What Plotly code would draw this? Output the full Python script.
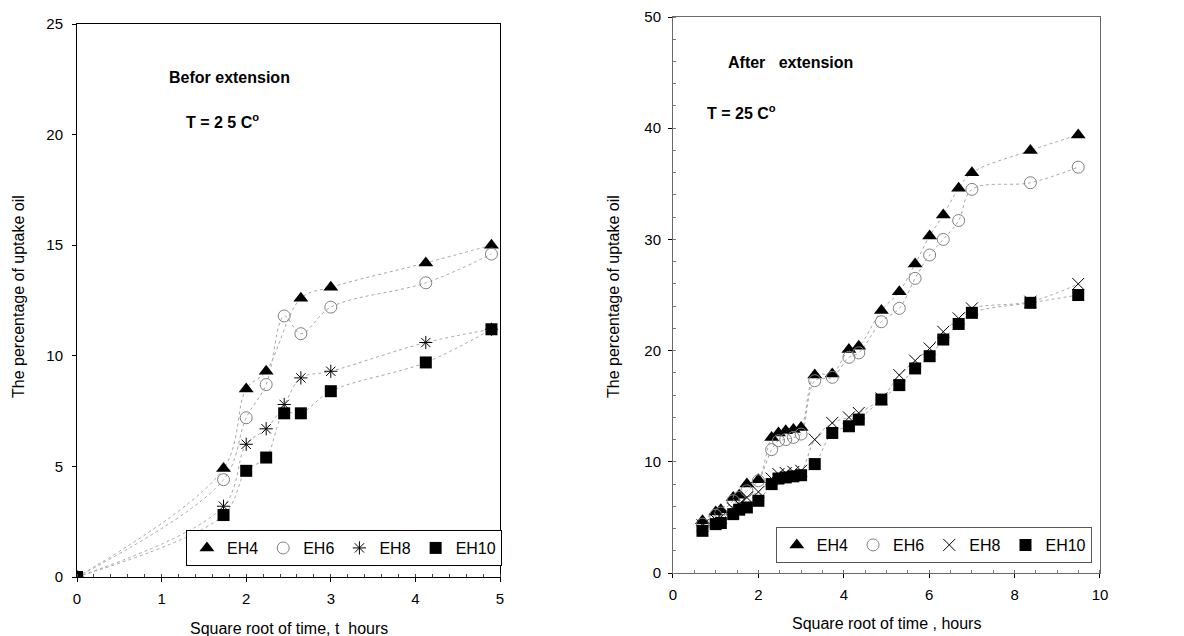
import plotly.graph_objects as go

# ---------------- data: left panel (before extension) ----------------
x_left = [0, 1.732, 2.0, 2.236, 2.449, 2.646, 3.0, 4.123, 4.899]
eh4_left = [0, 4.9, 8.5, 9.3, None, 12.6, 13.1, 14.2, 15.0]
eh6_left = [0, 4.4, 7.2, 8.7, 11.8, 11.0, 12.2, 13.3, 14.6]
eh8_left = [0, 3.2, 6.0, 6.7, 7.8, 9.0, 9.3, 10.6, 11.2]
eh10_left = [0, 2.8, 4.8, 5.4, 7.4, 7.4, 8.4, 9.7, 11.2]

# ---------------- data: right panel (after extension) ----------------
x_right = [0.69, 1.0, 1.12, 1.41, 1.55, 1.73, 2.0, 2.31, 2.47, 2.64, 2.82, 3.0,
           3.32, 3.73, 4.12, 4.35, 4.88, 5.3, 5.67, 6.01, 6.33, 6.69, 7.0, 8.37, 9.49]
eh4_right = [4.7, 5.5, 5.7, 6.8, 7.0, 8.0, 8.4, 12.2, 12.6, 12.8, 12.9, 13.1,
             17.8, 17.9, 20.1, 20.4, 23.6, 25.3, 27.8, 30.3, 32.2, 34.6, 36.0, 38.0, 39.4]
eh6_right = [4.4, 5.2, 5.4, 6.5, 6.8, 7.4, 8.3, 11.1, 11.9, 12.0, 12.2, 12.5,
             17.3, 17.6, 19.4, 19.8, 22.6, 23.8, 26.5, 28.6, 30.0, 31.7, 34.5, 35.1, 36.5]
eh8_right = [4.3, 4.8, 5.0, 5.8, 6.2, 6.8, 7.3, 8.5, 8.9, 9.0, 9.1, 9.2,
             12.0, 13.5, 14.0, 14.4, 15.7, 17.8, 19.1, 20.2, 21.7, 22.9, 23.8, 24.4, 26.0]
eh10_right = [3.8, 4.4, 4.5, 5.3, 5.7, 5.9, 6.5, 8.0, 8.5, 8.6, 8.7, 8.8,
              9.8, 12.6, 13.2, 13.8, 15.6, 16.9, 18.4, 19.5, 21.0, 22.4, 23.4, 24.3, 25.0]

names = ["EH4", "EH6", "EH8", "EH10"]
left_series = [eh4_left, eh6_left, eh8_left, eh10_left]
right_series = [eh4_right, eh6_right, eh8_right, eh10_right]

FONT = "Liberation Sans, Arial, sans-serif"
LINE_GREY = "#a8a8a8"

left_markers = [
    dict(symbol="triangle-up", size=13, color="black"),
    dict(symbol="circle-open", size=12, color="#808080", line=dict(width=1, color="#808080")),
    dict(symbol="asterisk-open", size=11, color="black", line=dict(width=1, color="black")),
    dict(symbol="square", size=12, color="black"),
]
right_markers = [
    dict(symbol="triangle-up", size=13, color="black"),
    dict(symbol="circle-open", size=12, color="#808080", line=dict(width=1, color="#808080")),
    dict(symbol="x-thin-open", size=12, color="black", line=dict(width=1, color="black")),
    dict(symbol="square", size=12, color="black"),
]

fig = go.Figure()

for name, ys, mk in zip(names, left_series, left_markers):
    fig.add_trace(go.Scatter(x=x_left, y=ys, mode="lines", connectgaps=True,
                             line=dict(shape="spline", dash="dot", width=1, color=LINE_GREY),
                             showlegend=False, hoverinfo="skip", xaxis="x", yaxis="y"))
for name, ys, mk in zip(names, left_series, left_markers):
    fig.add_trace(go.Scatter(x=x_left, y=ys, mode="markers", name=name, marker=mk,
                             xaxis="x", yaxis="y", legend="legend"))

for name, ys, mk in zip(names, right_series, right_markers):
    fig.add_trace(go.Scatter(x=x_right, y=ys, mode="lines",
                             line=dict(shape="spline", dash="dot", width=1, color=LINE_GREY),
                             showlegend=False, hoverinfo="skip", xaxis="x2", yaxis="y2"))
for name, ys, mk in zip(names, right_series, right_markers):
    fig.add_trace(go.Scatter(x=x_right, y=ys, mode="markers", name=name, marker=mk,
                             xaxis="x2", yaxis="y2", legend="legend2"))

axis_common = dict(showgrid=False, zeroline=False, showline=True, mirror=True,
                   ticks="outside", ticklen=4, tickcolor="black",
                   tickfont=dict(size=15, color="black", family=FONT))

W, H = 1184, 636
L, R, T, B = 77, 84, 17, 59
PW = W - L - R

fig.update_layout(
    width=W, height=H,
    margin=dict(l=L, r=R, t=T, b=B, autoexpand=False),
    paper_bgcolor="white", plot_bgcolor="white",
    font=dict(family=FONT, color="black"),
    xaxis=dict(domain=[0, 0.4135], range=[0, 5], dtick=1, anchor="y",
               linecolor="black", linewidth=1, ticklabelstandoff=4,
               minor=dict(dtick=0.2, ticks="inside", ticklen=3, tickcolor="#444"),
               **axis_common),
    yaxis=dict(domain=[0, 0.9875], range=[0, 25], dtick=5, anchor="x",
               linecolor="black", linewidth=1, ticklabelstandoff=6, **axis_common),
    xaxis2=dict(domain=[0.5826, 1.0], range=[0, 10], dtick=2, anchor="y2",
                linecolor="#6a6a6a", linewidth=1, ticklabelstandoff=4,
                minor=dict(dtick=0.5, ticks="inside", ticklen=3, tickcolor="#777"),
                **axis_common),
    yaxis2=dict(domain=[0.007, 1.0], range=[0, 50], dtick=10, anchor="x2",
                linecolor="#6a6a6a", linewidth=1, ticklabelstandoff=4,
                minor=dict(dtick=2, ticks="inside", ticklen=3, tickcolor="#777"),
                **axis_common),
    legend=dict(orientation="h", x=0.4154, xanchor="right", y=0.0196, yanchor="bottom",
                bgcolor="white", bordercolor="black", borderwidth=1,
                font=dict(size=16, family=FONT), itemwidth=30, tracegroupgap=0),
    legend2=dict(orientation="h", x=0.992, xanchor="right", y=0.025, yanchor="bottom",
                 bgcolor="white", bordercolor="#555", borderwidth=1,
                 font=dict(size=16, family=FONT), itemwidth=30, tracegroupgap=0),
)

annotations = [
    dict(text="<b>Befor extension</b>", x=1.8, y=22.6, xref="x", yref="y",
         showarrow=False, font=dict(size=16, family=FONT)),
    dict(text="<b>T = 2 5 C<sup>o</sup></b>", x=1.72, y=20.6, xref="x", yref="y",
         showarrow=False, font=dict(size=16, family=FONT)),
    dict(text="<b>After\u00a0\u00a0\u00a0extension</b>", x=2.75, y=45.9, xref="x2", yref="y2",
         showarrow=False, font=dict(size=16, family=FONT)),
    dict(text="<b>T = 25 C<sup>o</sup></b>", x=1.6, y=41.5, xref="x2", yref="y2",
         showarrow=False, font=dict(size=16, family=FONT)),
    dict(text="Square root of time, t\u00a0 hours", x=0.5, xref="x domain", xanchor="center",
         y=(H - B - 628) / (H - T - B), yref="paper", yanchor="middle",
         showarrow=False, font=dict(size=16, family=FONT)),
    dict(text="Square root of time , hours", x=0.5, xref="x2 domain", xanchor="center",
         y=(H - B - 623) / (H - T - B), yref="paper", yanchor="middle",
         showarrow=False, font=dict(size=16, family=FONT)),
    dict(text="The percentage of uptake oil", textangle=-90, x=(18 - L) / PW, xref="paper",
         xanchor="center", y=0.5, yref="paper", yanchor="middle",
         showarrow=False, font=dict(size=16, family=FONT)),
    dict(text="The percentage of uptake oil", textangle=-90, x=(613 - L) / PW, xref="paper",
         xanchor="center", y=0.5, yref="paper", yanchor="middle",
         showarrow=False, font=dict(size=16, family=FONT)),
]
fig.update_layout(annotations=annotations)

fig.write_html(
    "out.html",
    config={"displayModeBar": False},
    post_script="document.body.style.margin='0';document.body.style.overflow='hidden';",
)
